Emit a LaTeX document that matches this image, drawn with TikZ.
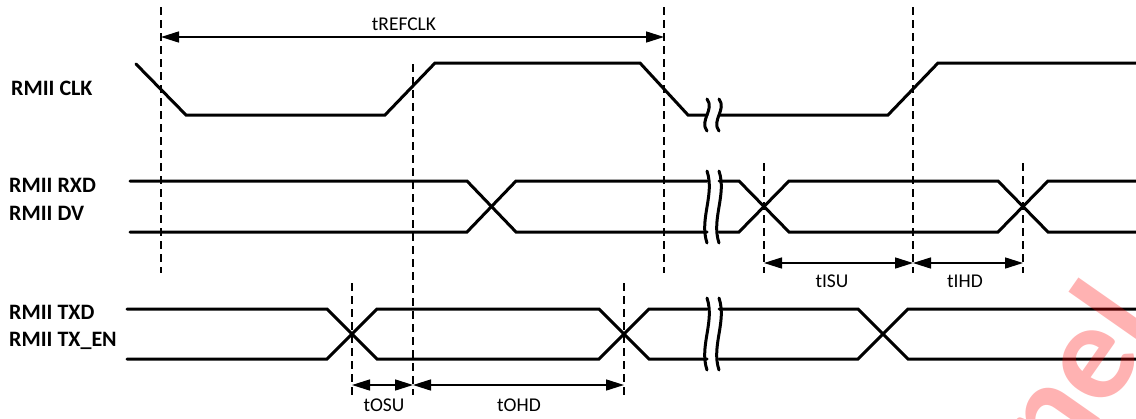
\documentclass[tikz,border=0pt]{standalone}
\usepackage{fontspec}
\setmainfont{Carlito}
\usetikzlibrary{arrows.meta}

\tikzset{
  wave/.style={line width=3pt, line cap=round},
  guide/.style={dash pattern=on 8pt off 5pt, line width=1.5pt},
  span/.style={{Triangle[length=18pt,width=11pt]}-{Triangle[length=18pt,width=11pt]}, line width=1.5pt},
  signame/.style={anchor=west, inner sep=0pt, font=\fontsize{22}{26}\selectfont\bfseries},
  tlabel/.style={inner sep=0pt, font=\fontsize{19.5}{23}\selectfont},
}
% two wavy strokes that cut a signal
\newcommand{\gapmark}[3]{%
  \draw[wave] (#1,#2-#3) .. controls (#1+8,#2-#3/3) and (#1-8,#2+#3/3) .. (#1,#2+#3);
  \draw[wave] (#1+12,#2-#3) .. controls (#1+20,#2-#3/3) and (#1+4,#2+#3/3) .. (#1+12,#2+#3);}

\begin{document}
\begin{tikzpicture}[x=1pt,y=-1pt]
\useasboundingbox (0,0) rectangle (1136,418);

% signal names
\node[signame] (clk) at (11,88) {RMII CLK};
\node[signame] (rxd) at (9,185) {RMII RXD};
\node[signame] (dv) at (9,213) {RMII DV};
\node[signame] (txd) at (9,312) {RMII TXD};
\node[signame] (txen) at (9,341) {RMII TX\_EN};

% clock
\draw[wave] (136,64) -- (186,115) -- (385,115) -- (435,63) -- (640,63) -- (688,115) -- (707,115);
\draw[wave] (719,115) -- (888,115) -- (938,63) -- (1136,63);
\gapmark{707}{115}{16}

% receive bus
\draw[wave] (130,181) -- (467,181) -- (516,232) -- (707,232);
\draw[wave] (130,232) -- (467,232) -- (516,181) -- (707,181);
\draw[wave] (719,181) -- (739,181) -- (789,232) -- (998,232) -- (1048,181) -- (1136,181);
\draw[wave] (719,232) -- (739,232) -- (789,181) -- (998,181) -- (1048,232) -- (1136,232);
\gapmark{707}{207}{36}

% transmit bus
\draw[wave] (127,309) -- (327,309) -- (377,359) -- (599,359) -- (649,309) -- (707,309);
\draw[wave] (127,359) -- (327,359) -- (377,309) -- (599,309) -- (649,359) -- (707,359);
\draw[wave] (719,309) -- (858,309) -- (908,359) -- (1136,359);
\draw[wave] (719,359) -- (858,359) -- (908,309) -- (1136,309);
\gapmark{707}{334}{36}

% reference lines
\draw[guide] (161,7) -- (161,273);
\draw[guide] (413,64) -- (413,395);
\draw[guide] (664,7) -- (664,273);
\draw[guide] (913,7) -- (913,273);
\draw[guide] (764,163) -- (764,273);
\draw[guide] (1023,163) -- (1023,273);
\draw[guide] (352,283) -- (352,395);
\draw[guide] (624,283) -- (624,395);

% timing spans
\coordinate (refA) at (161,37);
\coordinate (refB) at (664,37);
\coordinate (isuA) at (764,263);
\coordinate (isuB) at (913,263);
\coordinate (ihdB) at (1023,263);
\coordinate (osuA) at (352,385);
\coordinate (osuB) at (413,385);
\coordinate (ohdB) at (624,385);
\draw[span] (refA) -- (refB);
\draw[span] (isuA) -- (isuB);
\draw[span] (isuB) -- (ihdB);
\draw[span] (osuA) -- (osuB);
\draw[span] (osuB) -- (ohdB);
\node[tlabel] (trefclk) at (404,24) {tREFCLK};
\node[tlabel] (tisu) at (832,281) {tISU};
\node[tlabel] (tihd) at (965,281) {tIHD};
\node[tlabel] (tosu) at (384,405) {tOSU};
\node[tlabel] (tohd) at (519,405) {tOHD};

% watermark
\node[rotate=55, text=red, text opacity=0.3, font=\fontsize{140}{140}\selectfont\bfseries] (mark) at (1073,373) {nel};
\end{tikzpicture}
\end{document}
